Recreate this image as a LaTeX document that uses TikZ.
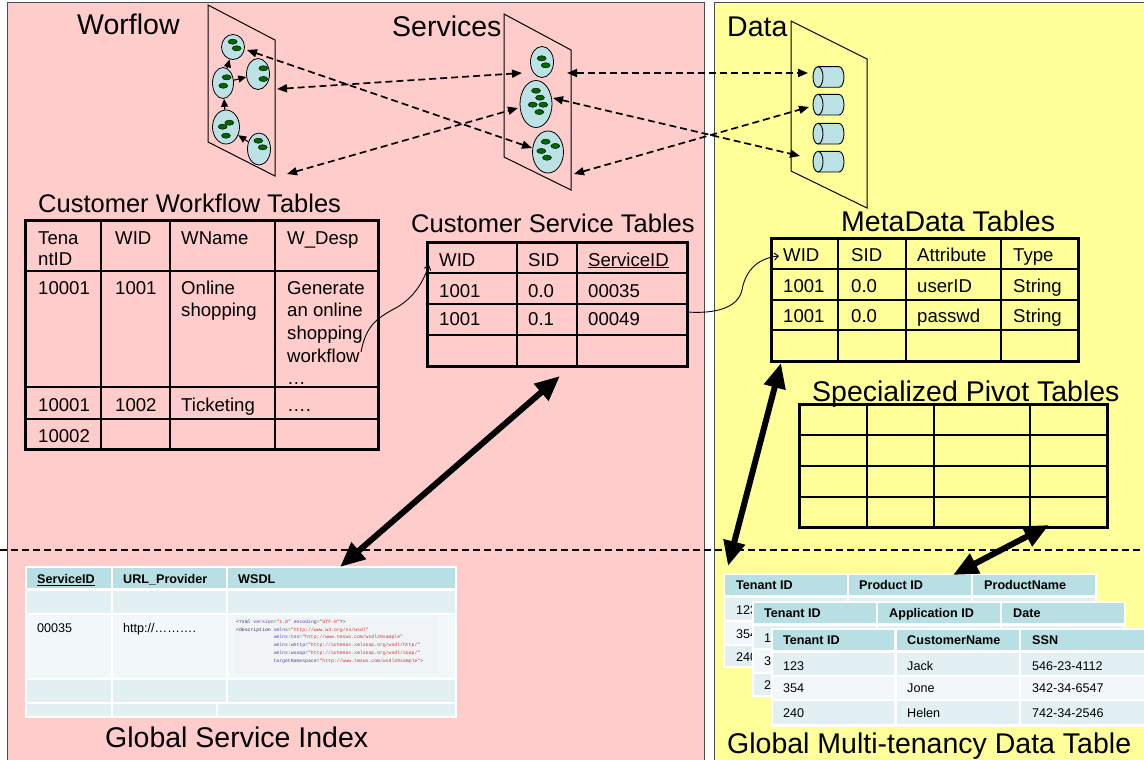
\documentclass[tikz,border=0pt]{standalone}
\usepackage{fontspec}
\setmainfont{Liberation Sans}
\setmonofont{Liberation Mono}
\usetikzlibrary{arrows.meta,shapes.geometric}
\definecolor{panelpink}{HTML}{FFCCCC}
\definecolor{panelyellow}{HTML}{FFFF99}
\definecolor{cellcyan}{HTML}{BCE2E6}
\definecolor{dotgreen}{HTML}{006A00}
\definecolor{hdrteal}{HTML}{B8DFE3}
\definecolor{rowa}{HTML}{E3F0F3}
\definecolor{rowb}{HTML}{F2F8FA}
\definecolor{codebg}{HTML}{F0F4F6}
\definecolor{xmlattr}{HTML}{5A3FA0}
\definecolor{xmlval}{HTML}{E0302A}
\definecolor{xmleq}{HTML}{1F9A1F}
\definecolor{xmltag}{HTML}{303060}
\newcommand{\xtag}[1]{\textcolor{xmltag}{#1}}
\newcommand{\xattr}[1]{\textcolor{xmlattr}{#1}}
\newcommand{\xeq}{\textcolor{xmleq}{=}}
\newcommand{\xval}[1]{\textcolor{xmlval}{#1}}
% filled table cell: x1 y1 x2 y2 colour
\newcommand{\tcell}[5]{\fill[#5] (#1,#2) rectangle (#3,#4);}
% horizontal storage drum: name, centre y
\newcommand{\drum}[2]{%
  \filldraw[fill=cellcyan, line width=0.9] (818,#2-10.3) -- (839,#2-10.3)
    arc[start angle=-90, end angle=90, x radius=5, y radius=10.3] -- (818,#2+10.3) -- cycle;
  \filldraw[fill=cellcyan, line width=0.9] (818,#2) ellipse[x radius=5, y radius=10.3];
  \coordinate (#1) at (813,#2);}
\begin{document}
\begin{tikzpicture}[x=1pt,y=-1pt,
  titlebig/.style={anchor=base west, inner sep=0, font=\fontsize{28.5}{32}\selectfont},
  titlemid/.style={anchor=base west, inner sep=0, font=\fontsize{25.5}{29}\selectfont},
  tabtext/.style={anchor=base west, inner sep=0, font=\fontsize{18.6}{22}\selectfont},
  smalltext/.style={anchor=base west, inner sep=0, font=\fontsize{12.6}{15}\selectfont},
  smallbold/.style={anchor=base west, inner sep=0, font=\fontsize{12.6}{15}\selectfont\bfseries},
  codetext/.style={anchor=base west, inner sep=0, font=\fontsize{4.8}{7.8}\selectfont\ttfamily},
  plane/.style={draw=black, line width=1},
  wfell/.style={ellipse, draw=black, line width=0.8, fill=cellcyan, inner sep=0},
  gdot/.style={fill=dotgreen, draw=black, line width=0.4},
  wfarrow/.style={draw=black, line width=1.1, -{Triangle[length=8pt,width=7pt]}},
  dasharrow/.style={draw=black, line width=1.7, dash pattern=on 7pt off 4pt,
    {Triangle[length=10pt,width=8pt]}-{Triangle[length=10pt,width=8pt]}},
  bigarrow/.style={draw=black, line width=6,
    {Triangle[length=25pt,width=21pt]}-{Triangle[length=25pt,width=21pt]}},
  tabframe/.style={draw=black, line width=3},
  tabgrid/.style={draw=black, line width=1.3},
  linkcurve/.style={draw=black, line width=0.9, -{Straight Barb[length=4pt,width=7pt]}},
]
\useasboundingbox (0,0) rectangle (1144,760);
\clip (0,0) rectangle (1144,760);
\fill[white] (0,0) rectangle (1144,760);

% ---- panels ----
\filldraw[fill=panelpink, draw=black!70, line width=1] (7,3) rectangle (704,765);
\filldraw[fill=panelyellow, draw=black!70, line width=1] (714,3) rectangle (1150,765);

% ---- titles ----
\node[titlebig] (tWorkflow) at (77,35) {Worflow};
\node[titlebig] (tServices) at (392,36.5) {Services};
\node[titlebig] (tData) at (727,36.5) {Data};
\node[titlemid] (tCWT) at (38,212) {Customer Workflow Tables};
\node[titlemid] (tCST) at (411,232) {Customer Service Tables};
\node[titlebig] (tMeta) at (841,231.5) {MetaData Tables};
\node[titlebig] (tPivot) at (812,401) {Specialized Pivot Tables};
\node[titlebig] (tGSI) at (105,747) {Global Service Index};
\node[titlebig] (tGMT) at (727,753) {Global Multi-tenancy Data Table};

% ---- workflow plane ----
\draw[plane] (208,5) -- (275,40) -- (275,176) -- (208,142) -- cycle;
\node[wfell, minimum width=23, minimum height=25] (w1) at (233,47) {};
\node[wfell, minimum width=21, minimum height=31] (w2) at (223,83) {};
\node[wfell, minimum width=23, minimum height=31] (w3) at (258,74) {};
\node[wfell, minimum width=27, minimum height=34] (w4) at (226,127) {};
\node[wfell, minimum width=23, minimum height=32] (w5) at (259,149) {};
\foreach \x/\y in {232.7/41.7, 236.7/48.3, 226.7/77.3, 223.3/85.7, 263.3/68.3, 263.3/79,
                   229.3/122.7, 222.7/126.7, 226/135.7, 258.3/140.7, 262.7/147.3}
  \path[gdot] (\x,\y) ellipse[x radius=4.5, y radius=2.6];
\draw[wfarrow] (w5) -- (w4);
\draw[wfarrow] (w4) -- (w2);
\draw[wfarrow] (w2) -- (w1);
\draw[wfarrow] (w2) -- (w3);

% ---- services plane ----
\draw[plane] (504,14) -- (571,50) -- (571,190) -- (504,157) -- cycle;
\node[wfell, minimum width=23, minimum height=31] (s1) at (542,62) {};
\node[wfell, minimum width=32, minimum height=47] (s2) at (536,104) {};
\node[wfell, minimum width=31, minimum height=42] (s3) at (548,152) {};
\foreach \x/\y in {541.7/58.3, 545.7/65.3, 536/90.7, 540/97.7, 532.7/104.7, 543.3/104.7,
                   539.3/112, 545.7/141.7, 555.3/146, 541.3/151, 547/157.7}
  \path[gdot] (\x,\y) ellipse[x radius=4.5, y radius=2.6];

% ---- data plane ----
\draw[plane] (791,21) -- (867,59) -- (867,208) -- (791,171) -- cycle;
\drum{d1}{77}
\drum{d2}{104.7}
\drum{d3}{133.7}
\drum{d4}{161.7}

% ---- dashed links between the layers ----
\coordinate (la1) at (277,89);  \coordinate (la2) at (522,73);
\coordinate (lb1) at (247,50);  \coordinate (lb2) at (532,148);
\coordinate (lc1) at (287,174); \coordinate (lc2) at (518,108);
\coordinate (ld1) at (567,73);  \coordinate (ld2) at (808,73);
\coordinate (le1) at (553,98);  \coordinate (le2) at (800,156);
\coordinate (lf1) at (574,174); \coordinate (lf2) at (809,107);
\draw[dasharrow] (la1) -- (la2);
\draw[dasharrow] (lb1) -- (lb2);
\draw[dasharrow] (lc1) -- (lc2);
\draw[dasharrow] (ld1) -- (ld2);
\draw[dasharrow] (le1) -- (le2);
\draw[dasharrow] (lf1) -- (lf2);

% ---- customer workflow table ----
\foreach \x in {101,170,275} \draw[tabgrid] (\x,220) -- (\x,449);
\foreach \y in {271,387,419} \draw[tabgrid] (25,\y) -- (378,\y);
\draw[tabframe] (25,220) rectangle (378,449);
\node[tabtext] (wfh1a) at (38,244) {Tena};
\node[tabtext] (wfh1b) at (38,265) {ntID};
\node[tabtext] (wfh2) at (115,244) {WID};
\node[tabtext] (wfh3) at (181,244) {WName};
\node[tabtext] (wfh4) at (287,244) {W\_Desp};
\node[tabtext] (wfa1) at (38,294) {10001};
\node[tabtext] (wfa2) at (115,294) {1001};
\node[tabtext] (wfa3a) at (181,294) {Online};
\node[tabtext] (wfa3b) at (181,316.7) {shopping};
\foreach \t [count=\i from 0] in {Generate, an online, shopping, workflow}
  \node[tabtext] (wfd\i) at (287,294+22.7*\i) {\t};
\node[tabtext] (wfd4) at (287,384) {…};
\node[tabtext] (wfb1) at (38,411) {10001};
\node[tabtext] (wfb2) at (115,411) {1002};
\node[tabtext] (wfb3) at (181,411) {Ticketing};
\node[tabtext] (wfb4) at (287,411) {….};
\node[tabtext] (wfc1) at (38,442) {10002};

% ---- customer service table ----
\foreach \x in {517,577} \draw[tabgrid] (\x,242) -- (\x,366);
\foreach \y in {273,304,335} \draw[tabgrid] (427,\y) -- (687,\y);
\draw[tabframe] (427,242) rectangle (687,366);
\node[tabtext] (csh1) at (439,266) {WID};
\node[tabtext] (csh2) at (528,266) {SID};
\node[tabtext] (csh3) at (588,266) {\underline{ServiceID}};
\node[tabtext] (csa1) at (439,297) {1001};
\node[tabtext] (csa2) at (528,297) {0.0};
\node[tabtext] (csa3) at (588,297) {00035};
\node[tabtext] (csb1) at (439,325) {1001};
\node[tabtext] (csb2) at (528,325) {0.1};
\node[tabtext] (csb3) at (588,325) {00049};

% ---- metadata table ----
\foreach \x in {838,906,1001} \draw[tabgrid] (\x,238) -- (\x,361);
\foreach \y in {269,300,330} \draw[tabgrid] (771,\y) -- (1078,\y);
\draw[tabframe] (771,238) rectangle (1078,361);
\node[tabtext] (mdh1) at (783,261) {WID};
\node[tabtext] (mdh2) at (851,261) {SID};
\node[tabtext] (mdh3) at (917,261) {Attribute};
\node[tabtext] (mdh4) at (1013,261) {Type};
\node[tabtext] (mda1) at (783,292) {1001};
\node[tabtext] (mda2) at (851,292) {0.0};
\node[tabtext] (mda3) at (917,292) {userID};
\node[tabtext] (mda4) at (1013,292) {String};
\node[tabtext] (mdb1) at (783,322.7) {1001};
\node[tabtext] (mdb2) at (851,322.7) {0.0};
\node[tabtext] (mdb3) at (917,322.7) {passwd};
\node[tabtext] (mdb4) at (1013,322.7) {String};

% ---- specialized pivot table ----
\foreach \x in {867,934,1030} \draw[tabgrid] (\x,404) -- (\x,527);
\foreach \y in {435,466,497} \draw[tabgrid] (799,\y) -- (1107,\y);
\draw[tabframe] (799,404) rectangle (1107,527);

% ---- thin links between tables ----
\coordinate (c1s) at (361,352); \coordinate (c1e) at (429,265);
\coordinate (c2s) at (687,312); \coordinate (c2e) at (779,256);
\draw[linkcurve] (c1s) .. controls (366,325) and (378,318) .. (392,310)
                       .. controls (412,300) and (422,285) .. (c1e);
\draw[linkcurve] (c2s) .. controls (715,314) and (738,308) .. (742,290)
                       .. controls (746,268) and (760,258) .. (c2e);

% ---- global service index ----
\fill[white] (25,566) rectangle (457,718);
\tcell{27}{568}{111}{588}{hdrteal}
\tcell{113}{568}{226}{588}{hdrteal}
\tcell{228}{568}{455}{588}{hdrteal}
\tcell{27}{591}{111}{613}{rowa}
\tcell{113}{591}{226}{613}{rowa}
\tcell{228}{591}{455}{613}{rowa}
\tcell{27}{615}{111}{678}{rowb}
\tcell{113}{615}{226}{678}{rowb}
\tcell{228}{615}{455}{678}{rowb}
\tcell{27}{680}{111}{702}{rowa}
\tcell{113}{680}{226}{702}{rowa}
\tcell{228}{680}{455}{702}{rowa}
\tcell{27}{704}{111}{716}{rowa}
\tcell{113}{704}{216}{716}{rowa}
\tcell{218}{704}{455}{716}{rowa}
\tcell{235}{617}{438}{675}{codebg}
\node[smallbold] (gsh1) at (37,583.5) {\underline{ServiceID}};
\node[smallbold] (gsh2) at (123,583.5) {URL\_Provider};
\node[smallbold] (gsh3) at (238,583.5) {WSDL};
\node[smalltext] (gsa1) at (37,632) {00035};
\node[smalltext] (gsa2) at (123,632) {http://……….};
\node[codetext] (x1) at (236,623.2) {\xtag{<?xml} \xattr{version}\xeq\xval{"1.0"} \xattr{encoding}\xeq\xval{"UTF-8"}\xtag{?>}};
\node[codetext] (x2) at (236,631.0) {\xtag{<description} \xattr{xmlns}\xeq\xval{"http://www.w3.org/ns/wsdl"}};
\node[codetext] (x3) at (273.3,638.8) {\xattr{xmlns:tns}\xeq\xval{"http://www.tmsws.com/wsdl20sample"}};
\node[codetext] (x4) at (273.3,646.6) {\xattr{xmlns:whttp}\xeq\xval{"http://schemas.xmlsoap.org/wsdl/http/"}};
\node[codetext] (x5) at (273.3,654.4) {\xattr{xmlns:wsoap}\xeq\xval{"http://schemas.xmlsoap.org/wsdl/soap/"}};
\node[codetext] (x6) at (273.3,662.2) {\xattr{targetNamespace}\xeq\xval{"http://www.tmsws.com/wsdl20sample"}\xtag{>}};

% ---- global multi-tenancy data tables (stacked) ----
% product table
\fill[white] (723,573) rectangle (1097,668);
\foreach \a/\b in {725/847,849/971,973/1095} {
  \tcell{\a}{575}{\b}{595}{hdrteal}
  \tcell{\a}{598}{\b}{620}{rowa}
  \tcell{\a}{622}{\b}{644}{rowb}
  \tcell{\a}{646}{\b}{666}{rowa}
}
\node[smallbold] (pth1) at (736,589.5) {Tenant ID};
\node[smallbold] (pth2) at (859,589.5) {Product ID};
\node[smallbold] (pth3) at (984,589.5) {ProductName};
\node[smalltext] (pta1) at (736,614) {123};
\node[smalltext] (pta2) at (736,638.5) {354};
\node[smalltext] (pta3) at (736,661) {240};
% application table
\fill[white] (752,601) rectangle (1126,697);
\foreach \a/\b in {754/876,878/1000,1002/1124} {
  \tcell{\a}{603}{\b}{623}{hdrteal}
  \tcell{\a}{626}{\b}{648}{rowa}
  \tcell{\a}{650}{\b}{672}{rowb}
  \tcell{\a}{674}{\b}{695}{rowa}
}
\node[smallbold] (ath1) at (764,617) {Tenant ID};
\node[smallbold] (ath2) at (889,617) {Application ID};
\node[smallbold] (ath3) at (1013,617) {Date};
\node[smalltext] (ata1) at (764,642) {1};
\node[smalltext] (ata2) at (764,665) {3};
\node[smalltext] (ata3) at (764,689.5) {2};
% customer table
\fill[white] (771,628) rectangle (1150,727);
\foreach \a/\b in {773/894,897/1019,1021/1150} {
  \tcell{\a}{630}{\b}{650}{hdrteal}
  \tcell{\a}{653}{\b}{675}{rowa}
  \tcell{\a}{677}{\b}{699}{rowb}
  \tcell{\a}{701}{\b}{724}{rowa}
}
\node[smallbold] (cth1) at (783,644.5) {Tenant ID};
\node[smallbold] (cth2) at (907,644.5) {CustomerName};
\node[smallbold] (cth3) at (1032,644.5) {SSN};
\node[smalltext] (cta1) at (783,670) {123};
\node[smalltext] (cta2) at (907,670) {Jack};
\node[smalltext] (cta3) at (1032,670) {546-23-4112};
\node[smalltext] (ctb1) at (783,692.5) {354};
\node[smalltext] (ctb2) at (907,692.5) {Jone};
\node[smalltext] (ctb3) at (1032,692.5) {342-34-6547};
\node[smalltext] (ctc1) at (783,717) {240};
\node[smalltext] (ctc2) at (907,717) {Helen};
\node[smalltext] (ctc3) at (1032,717) {742-34-2546};

% ---- divider between tenant-specific and global layers ----
\coordinate (dl) at (0,550); \coordinate (dr) at (1144,550);
\draw[line width=2, dash pattern=on 7pt off 4pt] (dl) -- (dr);

% ---- bold links to the global layer ----
\coordinate (g1a) at (560,376); \coordinate (g1b) at (340,567);
\coordinate (g2a) at (781,363); \coordinate (g2b) at (728,566);
\coordinate (g3a) at (1049,525); \coordinate (g3b) at (953,575);
\draw[bigarrow] (g1a) -- (g1b);
\draw[bigarrow] (g2a) -- (g2b);
\draw[bigarrow] (g3a) -- (g3b);
\end{tikzpicture}
\end{document}
